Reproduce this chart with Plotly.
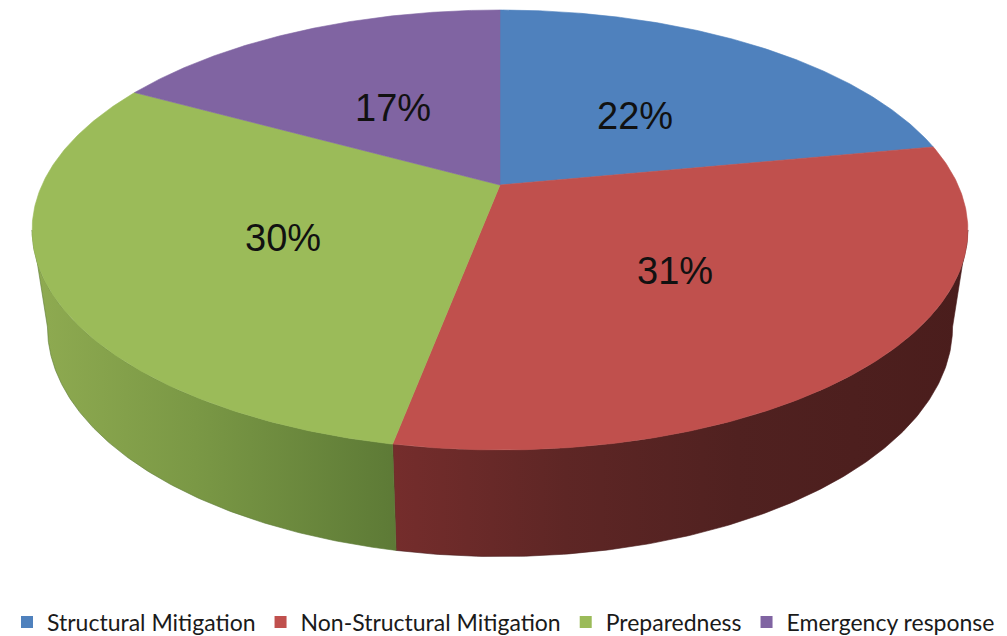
import numpy as np
import plotly.graph_objects as go

# ---- data -------------------------------------------------------------
categories = ["Structural Mitigation", "Non-Structural Mitigation",
              "Preparedness", "Emergency response"]
shares = [22, 31, 30, 17]                      # percent of total
top_colors = ["#4F81BD", "#C0504D", "#9BBB59", "#8064A2"]
side_colors = [
    [[0, "#3F6797"], [1, "#2A4565"]],
    [[0, "#752D2C"], [0.3, "#5E2625"], [0.6, "#502120"], [1, "#4A1D1C"]],
    [[0, "#8FAB51"], [0.45, "#7A9845"], [1, "#5D7A36"]],
    [[0, "#665082"], [1, "#443657"]],
]

# ---- 3-D pie geometry (pixel space of the page) -----------------------
W, H = 1007, 636
CX = 500
K = 0.2045                           # perspective factor (far side smaller)
TOP = dict(cy=185, rx=458, ry=210.8)  # top disc
BOT = dict(cy=280, rx=443, ry=220)    # bottom disc (further from the eye)


def project(theta_deg, rho=1.0, disc=TOP):
    t = np.radians(theta_deg)
    X = rho * np.sin(t)
    Z = rho * np.cos(t)
    d = 1 + K * Z
    return CX + disc["rx"] * X / d, disc["cy"] - disc["ry"] * Z / d


total = float(sum(shares))
bounds = np.concatenate([[0], np.cumsum(shares) / total * 360.0])

# visible part of the wall lies between the two silhouette angles
edge = np.degrees(np.arccos(-K))
vis_lo, vis_hi = edge, 360.0 - edge

fig = go.Figure()

# side walls
for i, cat in enumerate(categories):
    a0, a1 = max(bounds[i], vis_lo), min(bounds[i + 1], vis_hi)
    if a1 <= a0:
        continue
    th = np.linspace(a0, a1, 160)
    xt, yt = project(th)
    xb, yb = project(th[::-1], disc=BOT)
    xs = np.concatenate([xt, xb, xt[:1]])
    ys = np.concatenate([yt, yb, yt[:1]])
    fig.add_trace(go.Scatter(
        x=xs, y=ys, mode="lines", fill="toself",
        line=dict(width=0.6, color=side_colors[i][-1][1]),
        fillgradient=dict(type="horizontal", colorscale=side_colors[i]),
        hoverinfo="skip", showlegend=False))

# top faces
for i, cat in enumerate(categories):
    th = np.linspace(bounds[i], bounds[i + 1], 200)
    xa, ya = project(th)
    xs = np.concatenate([[CX], xa, [CX]])
    ys = np.concatenate([[TOP["cy"]], ya, [TOP["cy"]]])
    fig.add_trace(go.Scatter(
        x=xs, y=ys, mode="lines", fill="toself", fillcolor=top_colors[i],
        line=dict(width=0.6, color=top_colors[i]),
        hoverinfo="skip", showlegend=False, name=cat))

# percentage labels at the middle of each slice
for i, v in enumerate(shares):
    mid = (bounds[i] + bounds[i + 1]) / 2
    lx, ly = project(mid, rho=0.5)
    fig.add_annotation(x=lx, y=ly, text=f"{v}%", showarrow=False,
                       xanchor="center", yanchor="middle", yshift=-6,
                       font=dict(family="Liberation Sans, Arial", size=38,
                                 color="#111111"))

# legend entries
for i, cat in enumerate(categories):
    fig.add_trace(go.Scatter(
        x=[None], y=[None], mode="markers", name=cat,
        marker=dict(symbol="square", size=12, color=top_colors[i])))

fig.update_layout(
    width=W, height=H,
    margin=dict(l=0, r=0, t=0, b=0, autoexpand=False),
    paper_bgcolor="white", plot_bgcolor="white",
    xaxis=dict(range=[0, W], visible=False, fixedrange=True),
    yaxis=dict(range=[H, 0], visible=False, fixedrange=True),
    showlegend=True,
    legend=dict(orientation="h", x=0.5, xanchor="center",
                y=1 - 622 / H, yanchor="middle",
                font=dict(family="Lato, Carlito, Calibri", size=23,
                          color="#1a1a1a"),
                bgcolor="rgba(0,0,0,0)", itemwidth=30, tracegroupgap=0),
)

fig.write_html("out.html")
